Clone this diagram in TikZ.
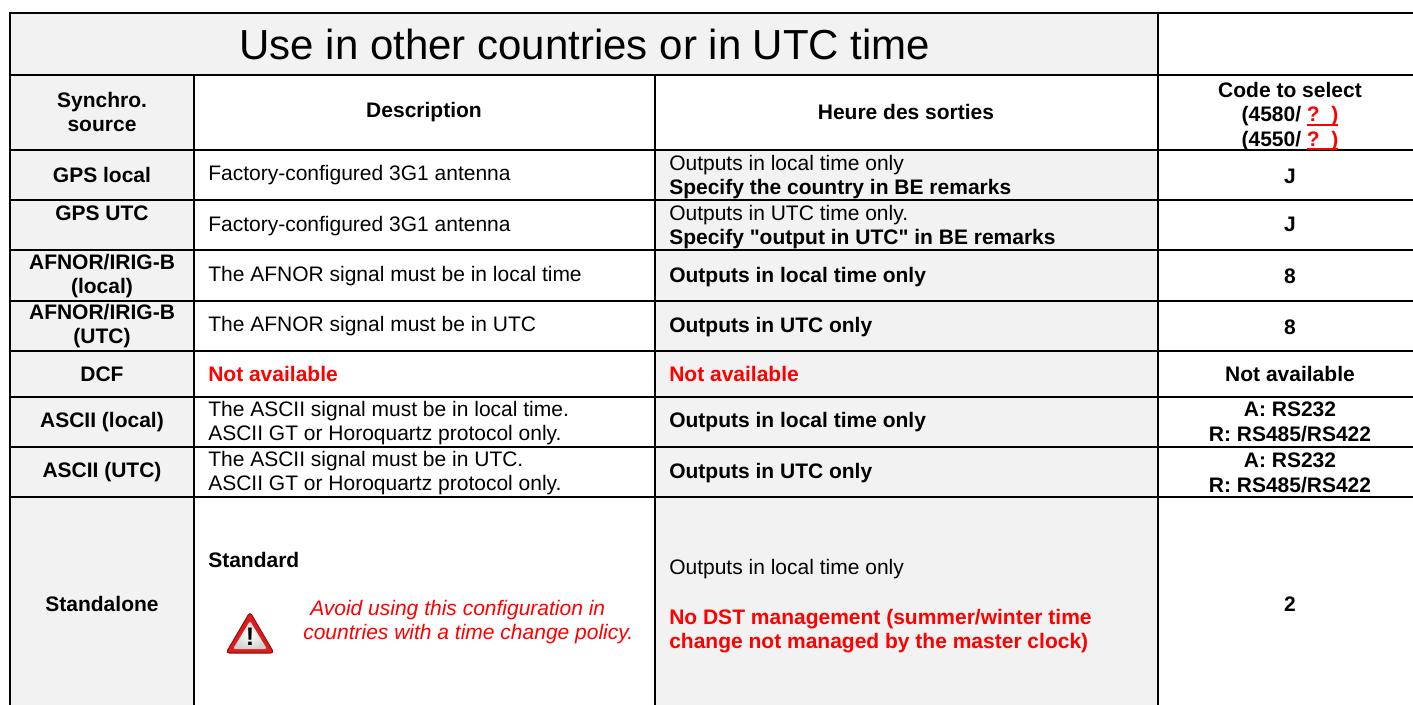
\documentclass[tikz,border=0pt]{standalone}
\usepackage{fontspec}
\setmainfont{Liberation Sans}[Ligatures=TeXOff]
\definecolor{cellgrey}{HTML}{F2F2F2}
\definecolor{warnred}{HTML}{D81E1E}
\definecolor{warndark}{HTML}{9E0B0B}
\newcommand{\cellsize}{\fontsize{15.75}{18.4}\selectfont}
\newcommand{\qmark}{\textcolor{red}{\sbox0{?\ \ )}\rlap{\rule[-2.8pt]{\wd0}{1.5pt}}\usebox0}}

\begin{document}
\begin{tikzpicture}[x=0.75pt,y=-0.75pt,
  every node/.style={inner sep=0pt,font=\cellsize},
  head/.style={font=\cellsize\bfseries,align=center},
  txt/.style={anchor=west,align=left},
  redtxt/.style={text=red,font=\cellsize\bfseries}]

\useasboundingbox (0,0) rectangle (1413,704);

% grey cells
\fill[cellgrey] (9.5,13) rectangle (1158,74.5);
\fill[cellgrey] (9.5,74.5) rectangle (194,710);
\fill[cellgrey] (655,150) rectangle (1158,710);

\begin{scope}[line width=1.5pt]
\draw (1420,13) -- (9.5,13) -- (9.5,710);
\foreach \y in {74.5,150,200,250,300.5,350.5,396.5,447,497}
  \draw (9.5,\y) -- (1420,\y);
\draw (1158,13) -- (1158,710);
\foreach \x in {194,655}
  \draw (\x,74.5) -- (\x,710);
\end{scope}

\node[font=\fontsize{31.5}{36}\selectfont] (title) at (585,44) {Use in other countries or in UTC time};

% header row
\node[head] (srchead) at (102,112) {Synchro.\\source};
\node[head] (deschead) at (424,112) {Description};
\node[head] (outhead) at (906,112) {Heure des sorties};
\node[head] (codehead) at (1290,116.5) {Code to select\\(4580/ \qmark\\(4550/ \qmark};

% synchro. source
\node[head] (src1) at (102,175) {GPS local};
\node[head] (src2) at (102,213) {GPS UTC};
\node[head] (src3) at (102,276) {AFNOR/IRIG-B\\(local)};
\node[head] (src4) at (102,326) {AFNOR/IRIG-B\\(UTC)};
\node[head] (src5) at (102,374) {DCF};
\node[head] (src6) at (102,422) {ASCII (local)};
\node[head] (src7) at (102,472) {ASCII (UTC)};
\node[head] (src8) at (102,604) {Standalone};

% description
\node[txt] (desc1) at (208,175) {Factory-configured 3G1 antenna};
\node[txt] (desc2) at (208,226) {Factory-configured 3G1 antenna};
\node[txt] (desc3) at (208,276) {The AFNOR signal must be in local time};
\node[txt] (desc4) at (208,326) {The AFNOR signal must be in UTC};
\node[txt,redtxt] (desc5) at (208,374) {Not available};
\node[txt] (desc6) at (208,423) {The ASCII signal must be in local time.\\ASCII GT or Horoquartz protocol only.};
\node[txt] (desc7) at (208,473) {The ASCII signal must be in UTC.\\ASCII GT or Horoquartz protocol only.};
\node[txt,font=\cellsize\bfseries] (desc8) at (208,560) {Standard};

\begin{scope}[shift={(250,633)}]
\filldraw[warndark,fill=warnred,line width=0.8pt,rounded corners=2.5pt] (0,-21) -- (24,20) -- (-24,20) -- cycle;
\shade[inner color=white,outer color=gray!35,rounded corners=1.5pt] (0,-12) -- (17,16) -- (-17,16) -- cycle;
\node[font=\fontsize{19}{19}\selectfont\bfseries] (warnsign) at (0,4) {!};
\end{scope}
\node[txt,text=red,font=\cellsize\itshape] (warntxt) at (303,622) {\hspace{5.25pt}Avoid using this configuration in\\countries with a time change policy.};

% output time
\node[txt] (out1) at (669,177) {Outputs in local time only\\\textbf{Specify the country in BE remarks}};
\node[txt] (out2) at (669,227) {Outputs in UTC time only.\\\textbf{Specify "output in UTC" in BE remarks}};
\node[txt,font=\cellsize\bfseries] (out3) at (669,277) {Outputs in local time only};
\node[txt,font=\cellsize\bfseries] (out4) at (669,327) {Outputs in UTC only};
\node[txt,redtxt] (out5) at (669,374) {Not available};
\node[txt,font=\cellsize\bfseries] (out6) at (669,422) {Outputs in local time only};
\node[txt,font=\cellsize\bfseries] (out7) at (669,473) {Outputs in UTC only};
\node[txt] (out8) at (669,569) {Outputs in local time only};
\node[txt,redtxt] (out9) at (669,631) {No DST management (summer/winter time\\change not managed by the master clock)};

% code to select
\node[head] (code1) at (1290,176) {J};
\node[head] (code2) at (1290,224) {J};
\node[head] (code3) at (1290,276) {8};
\node[head] (code4) at (1290,327) {8};
\node[head] (code5) at (1290,374) {Not available};
\node[head] (code6) at (1290,422) {A: RS232\\R: RS485/RS422};
\node[head] (code7) at (1290,473) {A: RS232\\R: RS485/RS422};
\node[head] (code8) at (1290,604) {2};

\end{tikzpicture}
\end{document}
